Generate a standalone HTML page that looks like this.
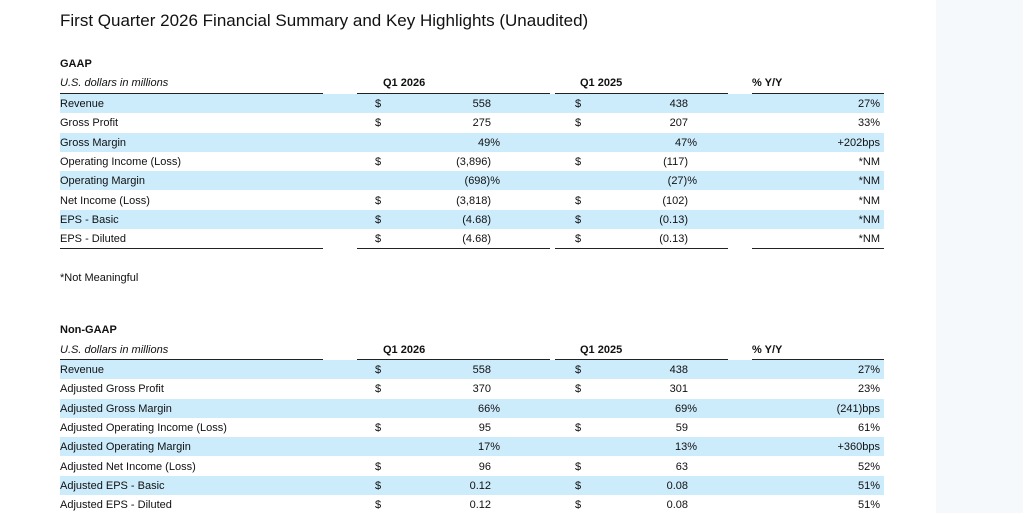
<!DOCTYPE html>
<html><head><meta charset="utf-8"><style>
*{margin:0;padding:0;box-sizing:border-box}
body{width:1023px;height:513px;overflow:hidden;background:#fff;position:relative;font-family:"Liberation Sans",Arial,sans-serif;font-size:11px;color:#111}
.side{position:absolute;left:936px;top:0;width:87px;height:513px;background:#f6f9fc}
.t{position:absolute;left:60px;top:11px;font-size:17px;color:#111;white-space:nowrap}
.a{position:absolute;white-space:nowrap;line-height:21px}
.r{position:absolute;left:60px;width:824px;height:19.3px}
.b{background:#ccebfb}
.l{position:absolute;height:1px;background:#222}
.h{font-weight:bold}
.i{font-style:italic}
</style></head><body>
<div class="side"></div>
<div class="t">First Quarter 2026 Financial Summary and Key Highlights (Unaudited)</div>

<div class="a h" style="left:60px;top:54px">GAAP</div>
<div class="a i" style="left:60px;top:73px">U.S. dollars in millions</div>
<div class="a h" style="left:383px;top:73px">Q1 2026</div>
<div class="a h" style="left:580px;top:73px">Q1 2025</div>
<div class="a h" style="left:752px;top:73px">% Y/Y</div>
<div class="l" style="left:60px;width:263px;top:93px"></div>
<div class="l" style="left:357px;width:193px;top:93px"></div>
<div class="l" style="left:555px;width:173px;top:93px"></div>
<div class="l" style="left:752px;width:132px;top:93px"></div>

<div class="r b" style="top:94px"></div>
<div class="r b" style="top:132.6px"></div>
<div class="r b" style="top:171.2px"></div>
<div class="r b" style="top:209.8px"></div>

<div class="l" style="left:60px;width:263px;top:248px"></div>
<div class="l" style="left:357px;width:193px;top:248px"></div>
<div class="l" style="left:555px;width:173px;top:248px"></div>
<div class="l" style="left:752px;width:132px;top:248px"></div>

<div class="a" style="left:60px;top:268px">*Not Meaningful</div>

<div class="a h" style="left:60px;top:320px">Non-GAAP</div>
<div class="a i" style="left:60px;top:340px">U.S. dollars in millions</div>
<div class="a h" style="left:383px;top:340px">Q1 2026</div>
<div class="a h" style="left:580px;top:340px">Q1 2025</div>
<div class="a h" style="left:752px;top:340px">% Y/Y</div>
<div class="l" style="left:60px;width:263px;top:359px"></div>
<div class="l" style="left:357px;width:193px;top:359px"></div>
<div class="l" style="left:555px;width:173px;top:359px"></div>
<div class="l" style="left:752px;width:132px;top:359px"></div>
<div class="r b" style="top:360px"></div>
<div class="r b" style="top:398.6px"></div>
<div class="r b" style="top:437.2px"></div>
<div class="r b" style="top:475.8px"></div>

<div class="a" style="left:60px;top:94px">Revenue</div><div class="a" style="left:375px;top:94px">$</div><div class="a" style="right:532px;top:94px">558</div><div class="a" style="left:575px;top:94px">$</div><div class="a" style="right:335px;top:94px">438</div><div class="a" style="right:143px;top:94px">27%</div>
<div class="a" style="left:60px;top:113.3px">Gross Profit</div><div class="a" style="left:375px;top:113.3px">$</div><div class="a" style="right:532px;top:113.3px">275</div><div class="a" style="left:575px;top:113.3px">$</div><div class="a" style="right:335px;top:113.3px">207</div><div class="a" style="right:143px;top:113.3px">33%</div>
<div class="a" style="left:60px;top:132.6px">Gross Margin</div><div class="a" style="right:523px;top:132.6px">49%</div><div class="a" style="right:326px;top:132.6px">47%</div><div class="a" style="right:143px;top:132.6px">+202bps</div>
<div class="a" style="left:60px;top:151.9px">Operating Income (Loss)</div><div class="a" style="left:375px;top:151.9px">$</div><div class="a" style="right:532px;top:151.9px">(3,896)</div><div class="a" style="left:575px;top:151.9px">$</div><div class="a" style="right:335px;top:151.9px">(117)</div><div class="a" style="right:143px;top:151.9px">*NM</div>
<div class="a" style="left:60px;top:171.2px">Operating Margin</div><div class="a" style="right:523px;top:171.2px">(698)%</div><div class="a" style="right:326px;top:171.2px">(27)%</div><div class="a" style="right:143px;top:171.2px">*NM</div>
<div class="a" style="left:60px;top:190.5px">Net Income (Loss)</div><div class="a" style="left:375px;top:190.5px">$</div><div class="a" style="right:532px;top:190.5px">(3,818)</div><div class="a" style="left:575px;top:190.5px">$</div><div class="a" style="right:335px;top:190.5px">(102)</div><div class="a" style="right:143px;top:190.5px">*NM</div>
<div class="a" style="left:60px;top:209.8px">EPS - Basic</div><div class="a" style="left:375px;top:209.8px">$</div><div class="a" style="right:532px;top:209.8px">(4.68)</div><div class="a" style="left:575px;top:209.8px">$</div><div class="a" style="right:335px;top:209.8px">(0.13)</div><div class="a" style="right:143px;top:209.8px">*NM</div>
<div class="a" style="left:60px;top:229.1px">EPS - Diluted</div><div class="a" style="left:375px;top:229.1px">$</div><div class="a" style="right:532px;top:229.1px">(4.68)</div><div class="a" style="left:575px;top:229.1px">$</div><div class="a" style="right:335px;top:229.1px">(0.13)</div><div class="a" style="right:143px;top:229.1px">*NM</div>

<div class="a" style="left:60px;top:360px">Revenue</div><div class="a" style="left:375px;top:360px">$</div><div class="a" style="right:532px;top:360px">558</div><div class="a" style="left:575px;top:360px">$</div><div class="a" style="right:335px;top:360px">438</div><div class="a" style="right:143px;top:360px">27%</div>
<div class="a" style="left:60px;top:379.3px">Adjusted Gross Profit</div><div class="a" style="left:375px;top:379.3px">$</div><div class="a" style="right:532px;top:379.3px">370</div><div class="a" style="left:575px;top:379.3px">$</div><div class="a" style="right:335px;top:379.3px">301</div><div class="a" style="right:143px;top:379.3px">23%</div>
<div class="a" style="left:60px;top:398.6px">Adjusted Gross Margin</div><div class="a" style="right:523px;top:398.6px">66%</div><div class="a" style="right:326px;top:398.6px">69%</div><div class="a" style="right:143px;top:398.6px">(241)bps</div>
<div class="a" style="left:60px;top:417.9px">Adjusted Operating Income (Loss)</div><div class="a" style="left:375px;top:417.9px">$</div><div class="a" style="right:532px;top:417.9px">95</div><div class="a" style="left:575px;top:417.9px">$</div><div class="a" style="right:335px;top:417.9px">59</div><div class="a" style="right:143px;top:417.9px">61%</div>
<div class="a" style="left:60px;top:437.2px">Adjusted Operating Margin</div><div class="a" style="right:523px;top:437.2px">17%</div><div class="a" style="right:326px;top:437.2px">13%</div><div class="a" style="right:143px;top:437.2px">+360bps</div>
<div class="a" style="left:60px;top:456.5px">Adjusted Net Income (Loss)</div><div class="a" style="left:375px;top:456.5px">$</div><div class="a" style="right:532px;top:456.5px">96</div><div class="a" style="left:575px;top:456.5px">$</div><div class="a" style="right:335px;top:456.5px">63</div><div class="a" style="right:143px;top:456.5px">52%</div>
<div class="a" style="left:60px;top:475.8px">Adjusted EPS - Basic</div><div class="a" style="left:375px;top:475.8px">$</div><div class="a" style="right:532px;top:475.8px">0.12</div><div class="a" style="left:575px;top:475.8px">$</div><div class="a" style="right:335px;top:475.8px">0.08</div><div class="a" style="right:143px;top:475.8px">51%</div>
<div class="a" style="left:60px;top:495.1px">Adjusted EPS - Diluted</div><div class="a" style="left:375px;top:495.1px">$</div><div class="a" style="right:532px;top:495.1px">0.12</div><div class="a" style="left:575px;top:495.1px">$</div><div class="a" style="right:335px;top:495.1px">0.08</div><div class="a" style="right:143px;top:495.1px">51%</div>
</body></html>
